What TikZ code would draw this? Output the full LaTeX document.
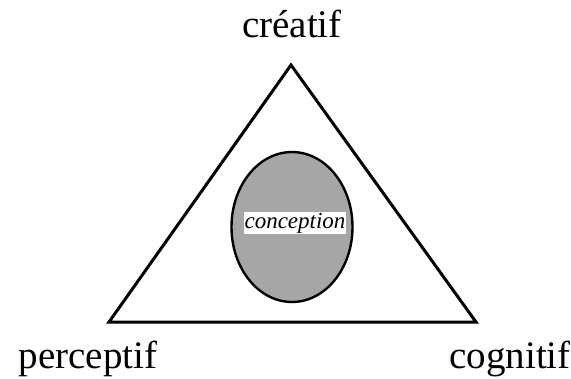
\documentclass[tikz,border=0pt]{standalone}
\usepackage{fontspec}
\setmainfont{Liberation Serif}
\usetikzlibrary{shapes.geometric,positioning}

\begin{document}
\begin{tikzpicture}[
    x=1pt, y=-1pt,
    pole/.style={font=\fontsize{39}{42}\selectfont, anchor=base, inner sep=0pt},
    core/.style={ellipse, draw, line width=2.4pt, fill=black!35, minimum width=121pt, minimum height=150pt, inner sep=0pt},
    tag/.style={rectangle, fill=white, inner sep=1pt, font=\fontsize{23}{26}\selectfont\itshape}
]
\useasboundingbox (0,0) rectangle (571,378);

% Corners of the triangle
\coordinate (top) at (291,65);
\coordinate (left) at (109,322);
\coordinate (right) at (476,322);

% Triangle
\draw[line width=3pt, line join=miter] (top) -- (right) -- (left) -- cycle;

% Centre
\node[core] (centre) at (292,227) {};
\node[tag] (concept) at (295,223) {conception};

% Labels
\node[pole] (creatif) at (292,37) {créatif};
\node[pole] (perceptif) at (88,368) {perceptif};
\node[pole] (cognitif) at (510,368) {cognitif};

\end{tikzpicture}
\end{document}
